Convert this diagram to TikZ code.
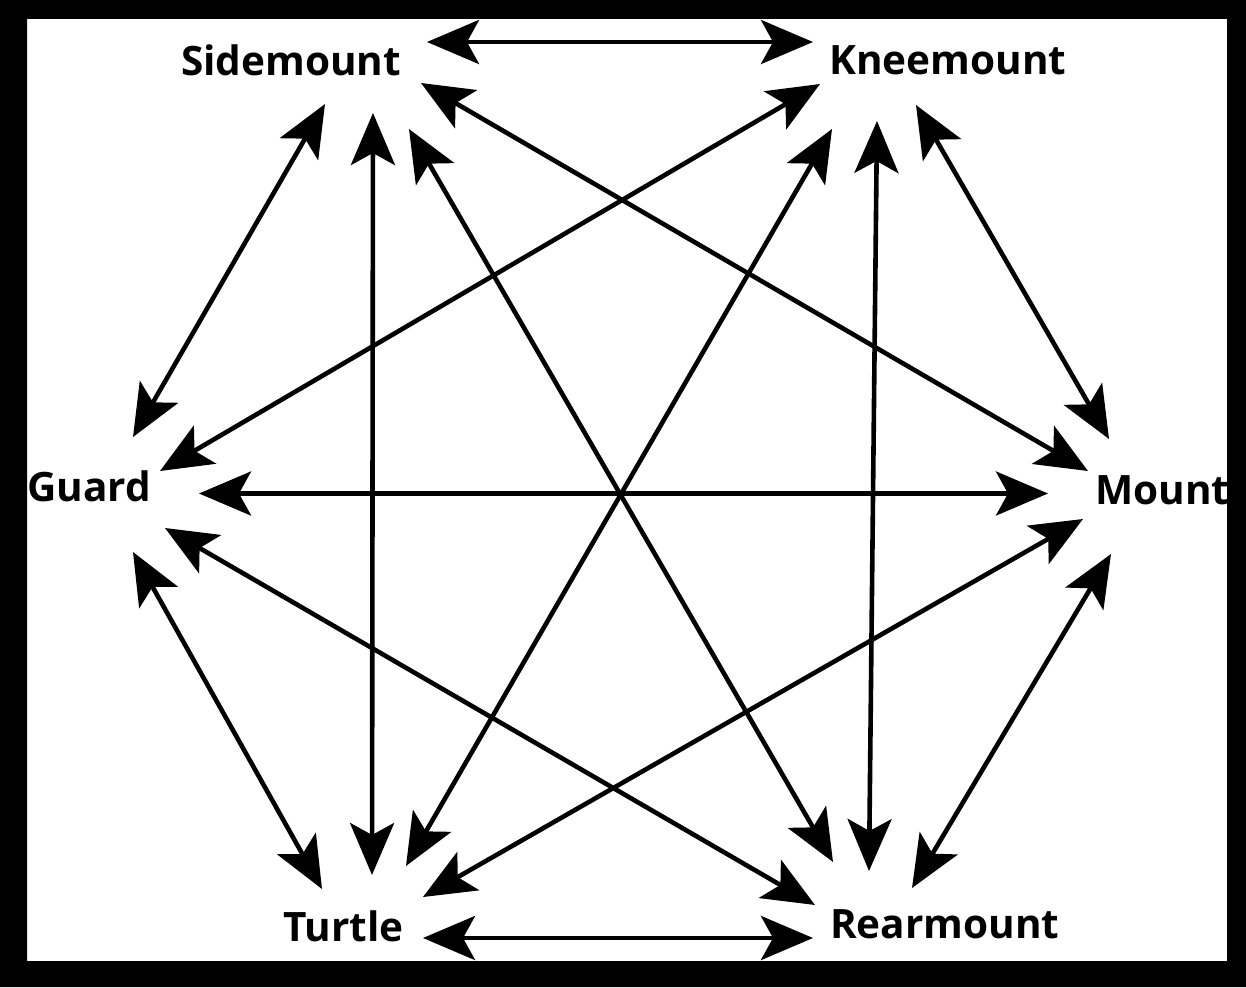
\documentclass[tikz,border=0pt]{standalone}
\usepackage{fontspec}
\setmainfont{Open Sans}
\usetikzlibrary{arrows.meta}
\begin{document}
\begin{tikzpicture}[x=1pt,y=-1pt,
  lbl/.style={anchor=base west,inner sep=0pt,font=\fontsize{40.5}{48}\selectfont\bfseries},
  link/.style={line width=4.6pt,{Stealth[length=52pt,width=44pt,inset=12pt]}-{Stealth[length=52pt,width=44pt,inset=12pt]}}]
\useasboundingbox (0,0) rectangle (1246,987);
\fill[white] (0,0) rectangle (1246,987);
% labels
\node[lbl] (sm) at (181,76) {Sidemount};
\node[lbl] (km) at (829,75) {Kneemount};
\node[lbl] (gd) at (27,501) {Guard};
\node[lbl] (mt) at (1095,504) {Mount};
\node[lbl] (tt) at (283,941) {Turtle};
\node[lbl] (rm) at (830,938) {Rearmount};
% arrow end points
\coordinate (skA) at (427,42);   \coordinate (skB) at (813,42);
\coordinate (sgA) at (325,104);  \coordinate (sgB) at (133,437);
\coordinate (stA) at (373,113);  \coordinate (stB) at (372,875);
\coordinate (srA) at (409,129);  \coordinate (srB) at (833,862);
\coordinate (smA) at (421,83);   \coordinate (smB) at (1088,471);
\coordinate (kgA) at (820,84);   \coordinate (kgB) at (160,471);
\coordinate (ktA) at (832,129);  \coordinate (ktB) at (406,866);
\coordinate (krA) at (877,121);  \coordinate (krB) at (869,871);
\coordinate (kmA) at (916,105);  \coordinate (kmB) at (1109,439);
\coordinate (gmA) at (199,493.5);\coordinate (gmB) at (1048,493.5);
\coordinate (gtA) at (133,552);  \coordinate (gtB) at (322,889);
\coordinate (grA) at (165,528);  \coordinate (grB) at (815,905);
\coordinate (mtA) at (1083,519); \coordinate (mtB) at (423,897);
\coordinate (mrA) at (1111,554); \coordinate (mrB) at (912,888);
\coordinate (trA) at (423,938);  \coordinate (trB) at (813,938);
% connectors
\foreach \e in {sk,sg,st,sr,sm,kg,kt,kr,km,gm,gt,gr,mt,mr,tr}
  \draw[link] (\e A) -- (\e B);
% frame
\fill[black,even odd rule] (0,0) rectangle (1246,987) (27,19) rectangle (1227,961);
\end{tikzpicture}
\end{document}
